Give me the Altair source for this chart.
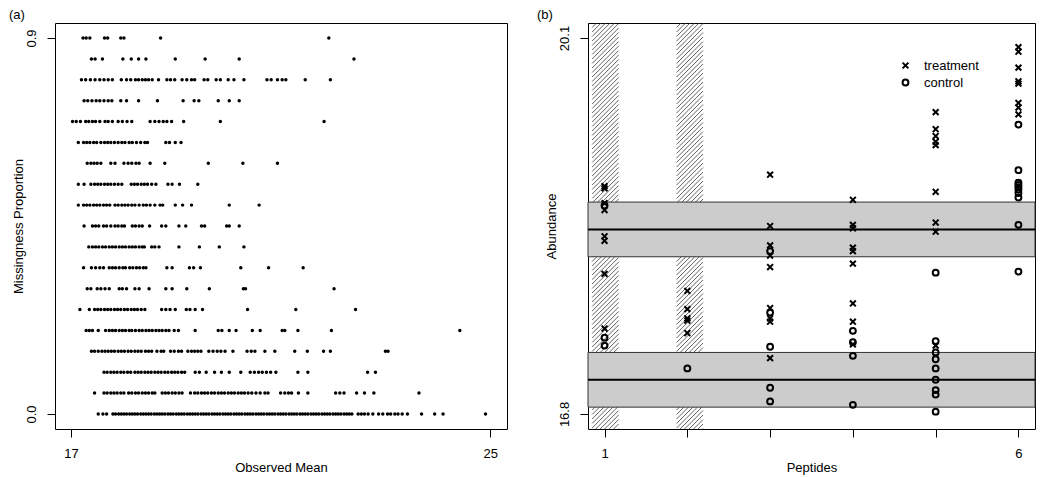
import altair as alt
import pandas as pd

FONT = "Liberation Sans"

# ---------------- panel (a): observed mean for each missingness level ----------------
prop_levels = [0.0, 0.05, 0.1, 0.15, 0.2, 0.25, 0.3, 0.35, 0.4, 0.45,
               0.5, 0.55, 0.6, 0.65, 0.7, 0.75, 0.8, 0.85, 0.9]

mean_000 = [17.52, 17.61, 17.68, 17.80, 17.85, 17.91, 17.96, 18.01, 18.06, 18.12, 18.17, 18.22, 18.27,
            18.33, 18.38, 18.43, 18.48, 18.53, 18.59, 18.64, 18.69, 18.74, 18.79, 18.85, 18.90, 18.95,
            19.01, 19.06, 19.11, 19.16, 19.22, 19.27, 19.32, 19.37, 19.42, 19.48, 19.53, 19.58, 19.63,
            19.69, 19.74, 19.79, 19.84, 19.90, 19.95, 20.00, 20.05, 20.11, 20.16, 20.21, 20.26, 20.32,
            20.37, 20.42, 20.47, 20.53, 20.58, 20.63, 20.68, 20.74, 20.79, 20.84, 20.89, 20.95, 21.00,
            21.05, 21.10, 21.16, 21.21, 21.26, 21.31, 21.37, 21.42, 21.47, 21.52, 21.58, 21.63, 21.68,
            21.73, 21.79, 21.84, 21.89, 21.94, 22.00, 22.05, 22.10, 22.15, 22.21, 22.26, 22.31, 22.36,
            22.48, 22.54, 22.60, 22.67, 22.76, 22.87, 22.95, 23.04, 23.10, 23.18, 23.24, 23.32, 23.42,
            23.69, 23.94, 24.10, 24.91]
mean_005 = [17.45, 17.63, 17.69, 17.76, 17.82, 17.88, 17.95, 18.01, 18.10, 18.16, 18.23, 18.29, 18.36,
            18.42, 18.48, 18.55, 18.60, 18.74, 18.80, 18.86, 18.93, 18.99, 19.06, 19.12, 19.28, 19.36,
            19.42, 19.49, 19.55, 19.61, 19.68, 19.74, 19.81, 19.87, 19.93, 20.00, 20.06, 20.12, 20.19,
            20.25, 20.31, 20.38, 20.45, 20.53, 20.61, 20.70, 20.76, 21.00, 21.08, 21.15, 21.21, 21.34,
            21.52, 22.05, 22.13, 22.21, 22.45, 22.60, 22.78, 23.64]
mean_010 = [17.63, 17.69, 17.76, 17.82, 17.88, 17.95, 18.01, 18.08, 18.14, 18.22, 18.28, 18.34, 18.41,
            18.47, 18.53, 18.60, 18.66, 18.72, 18.79, 18.85, 18.92, 18.98, 19.04, 19.11, 19.17, 19.37,
            19.45, 19.58, 19.74, 19.87, 20.02, 20.24, 20.42, 20.50, 20.58, 20.65, 20.73, 20.81, 20.91,
            21.33, 21.52, 22.66, 22.81]
mean_015 = [17.39, 17.45, 17.52, 17.59, 17.65, 17.71, 17.77, 17.83, 17.90, 17.96, 18.02, 18.09, 18.15,
            18.22, 18.28, 18.34, 18.42, 18.48, 18.54, 18.64, 18.72, 18.77, 18.90, 18.97, 19.05, 19.11,
            19.23, 19.30, 19.36, 19.42, 19.48, 19.63, 19.71, 19.79, 19.86, 19.94, 20.09, 20.36, 20.44,
            20.51, 20.70, 20.89, 21.27, 21.51, 21.82, 21.95, 23.00, 23.05]
mean_020 = [17.29, 17.35, 17.41, 17.52, 17.66, 17.73, 17.79, 17.85, 17.92, 17.98, 18.04, 18.11, 18.16,
            18.23, 18.30, 18.36, 18.43, 18.49, 18.55, 18.62, 18.68, 18.74, 18.81, 18.87, 18.97, 19.05,
            19.37, 19.81, 19.88, 20.02, 20.15, 20.46, 20.61, 21.03, 21.08, 21.33, 21.97, 24.42]
mean_025 = [17.17, 17.35, 17.45, 17.51, 17.57, 17.64, 17.70, 17.76, 17.83, 17.89, 17.95, 18.02, 18.08,
            18.15, 18.21, 18.27, 18.34, 18.41, 18.73, 18.81, 18.89, 18.99, 19.20, 19.27, 19.37, 19.51,
            20.37, 21.29, 22.43]
mean_030 = [17.31, 17.38, 17.50, 17.57, 17.65, 17.73, 17.92, 17.98, 18.06, 18.22, 18.30, 18.49, 18.81,
            18.93, 19.21, 19.64, 20.29, 20.33, 22.02]
mean_035 = [17.24, 17.39, 17.47, 17.55, 17.62, 17.73, 17.79, 17.85, 17.92, 17.99, 18.04, 18.12, 18.18,
            18.25, 18.31, 18.38, 18.43, 18.83, 18.93, 19.26, 19.34, 19.47, 20.24, 20.77, 21.43]
mean_040 = [17.34, 17.41, 17.47, 17.53, 17.60, 17.66, 17.73, 17.79, 17.85, 17.92, 17.98, 18.04, 18.11,
            18.17, 18.23, 18.30, 18.36, 18.40, 18.54, 18.60, 18.68, 19.06, 19.45, 19.83, 20.30]
mean_045 = [17.25, 17.41, 17.47, 17.53, 17.62, 17.68, 17.76, 17.84, 17.90, 17.97, 18.02, 18.17, 18.23,
            18.30, 18.36, 18.50, 18.73, 18.81, 19.06, 19.19, 19.49, 19.55, 19.97, 20.02, 20.21]
mean_050 = [17.14, 17.24, 17.30, 17.36, 17.43, 17.49, 17.55, 17.62, 17.68, 17.74, 17.84, 17.90, 17.97,
            18.03, 18.09, 18.16, 18.22, 18.30, 18.38, 18.44, 18.51, 18.60, 18.70, 18.75, 18.99, 19.13,
            19.30, 20.02, 20.59]
mean_055 = [17.14, 17.25, 17.38, 17.45, 17.51, 17.57, 17.64, 17.70, 17.76, 17.83, 17.90, 17.97, 18.15,
            18.21, 18.27, 18.34, 18.40, 18.46, 18.54, 18.62, 18.85, 18.93, 19.07, 19.42]
mean_060 = [17.31, 17.38, 17.44, 17.50, 17.57, 17.76, 17.84, 18.01, 18.09, 18.16, 18.24, 18.30, 18.51,
            18.79, 19.62, 20.28, 20.94]
mean_065 = [17.14, 17.24, 17.30, 17.36, 17.43, 17.49, 17.57, 17.64, 17.70, 17.76, 17.83, 17.90, 17.97,
            18.03, 18.11, 18.17, 18.25, 18.33, 18.41, 18.46, 18.81, 18.88, 18.99, 19.10]
mean_070 = [17.03, 17.10, 17.18, 17.28, 17.34, 17.41, 17.47, 17.55, 17.65, 17.71, 17.79, 17.90, 17.98,
            18.07, 18.16, 18.51, 18.60, 18.68, 18.76, 18.83, 18.92, 19.15, 19.85, 21.83]
mean_075 = [17.25, 17.32, 17.40, 17.48, 17.55, 17.63, 17.71, 17.78, 17.95, 18.06, 18.29, 18.65, 19.14,
            19.35, 19.44, 19.81, 20.02, 20.21]
mean_080 = [17.20, 17.28, 17.37, 17.46, 17.55, 17.63, 17.71, 17.79, 17.96, 18.06, 18.14, 18.23, 18.29,
            18.36, 18.42, 18.48, 18.55, 18.67, 18.83, 18.90, 18.98, 19.12, 19.21, 19.30, 19.36, 19.54,
            19.61, 19.77, 19.85, 20.00, 20.11, 20.30, 20.74, 20.82, 20.94, 21.03, 21.10, 21.47, 21.95]
mean_085 = [17.39, 17.46, 17.60, 17.99, 18.15, 18.29, 18.43, 18.99, 19.56, 20.21, 22.40]
mean_090 = [17.23, 17.29, 17.36, 17.64, 17.70, 17.95, 18.01, 18.71, 21.92]

rows_a = [mean_000, mean_005, mean_010, mean_015, mean_020, mean_025, mean_030, mean_035, mean_040,
          mean_045, mean_050, mean_055, mean_060, mean_065, mean_070, mean_075, mean_080, mean_085,
          mean_090]

# ---------------- panel (b): abundance per peptide ----------------
peptides = [1, 2, 3, 4, 5, 6]
treatment = [
    [18.80, 18.78, 18.65, 18.59, 18.36, 18.32, 18.03, 17.55],
    [17.88, 17.72, 17.64, 17.62, 17.51],
    [18.90, 18.45, 18.28, 18.19, 18.09, 17.73, 17.64, 17.61, 17.29],
    [18.68, 18.46, 18.43, 18.26, 18.23, 18.12, 17.77, 17.61, 17.41],
    [19.45, 19.30, 19.24, 19.19, 19.16, 18.75, 18.48, 18.40, 17.40],
    [20.02, 19.98, 19.84, 19.72, 19.70, 19.53, 19.49, 19.43],
]
control = [
    [18.63, 17.47, 17.40],
    [17.20],
    [18.23, 17.69, 17.39, 17.03, 16.91],
    [17.53, 17.43, 17.31, 16.88],
    [18.04, 17.44, 17.34, 17.28, 17.20, 17.10, 17.01, 16.97, 16.82],
    [19.34, 18.94, 18.83, 18.81, 18.79, 18.77, 18.74, 18.70, 18.46, 18.05],
]
band_centers = [18.42, 17.10]
band_half = 0.24
hatch_from = [0.85, 1.87]
hatch_to = [1.17, 2.19]

# ---------------- sizes / domains ----------------
WA, HA = 452, 406
WB, HB = 447, 406
XA_DOM = [16.695, 25.32]
YA_DOM = [-0.036, 0.936]
XB_DOM = [0.8, 6.2]
YB_DOM = [16.668, 20.232]

df_a = pd.DataFrame([{"prop": p, "mean": m} for p, row in zip(prop_levels, rows_a) for m in row])

recs = []
for pep, tv, cv in zip(peptides, treatment, control):
    recs += [{"peptide": pep, "abundance": v, "group": "treatment"} for v in tv]
    recs += [{"peptide": pep, "abundance": v, "group": "control"} for v in cv]
df_b = pd.DataFrame(recs)

df_band = pd.DataFrame({"x": [XB_DOM[0]] * 2, "x2": [XB_DOM[1]] * 2,
                        "y": [c - band_half for c in band_centers],
                        "y2": [c + band_half for c in band_centers]})
df_mid = pd.DataFrame({"x": [XB_DOM[0]] * 2, "x2": [XB_DOM[1]] * 2, "y": band_centers})

# hatch lines (45 degrees in screen space) inside each hatched strip
sx = WB / (XB_DOM[1] - XB_DOM[0])
sy = HB / (YB_DOM[1] - YB_DOM[0])
SPACING = 4.5
hrecs = []
for a, b in zip(hatch_from, hatch_to):
    X0, X1 = (a - XB_DOM[0]) * sx, (b - XB_DOM[0]) * sx
    c = X0 - HB
    while c <= X1:
        xa, xb = max(X0, c), min(X1, HB + c)
        if xb > xa:
            hrecs.append({"x": XB_DOM[0] + xa / sx, "y": YB_DOM[0] + (xa - c) / sy,
                          "x2": XB_DOM[0] + xb / sx, "y2": YB_DOM[0] + (xb - c) / sy})
        c += SPACING
df_h = pd.DataFrame(hrecs)

axis_common = dict(grid=False, domain=False, tickColor="black", tickSize=8, tickWidth=1,
                   labelColor="black", titleColor="black", labelFontSize=13, titleFontSize=13,
                   labelFont=FONT, titleFont=FONT, titleFontWeight="normal", labelFlush=False)

# ---------------- panel (a) chart ----------------
xa_axis = alt.Axis(values=[17, 25], format="d", title="Observed Mean", labelPadding=10,
                   titlePadding=1, **axis_common)
ya_axis = alt.Axis(values=[0.0, 0.9], format=".1f", labelAngle=-90, labelAlign="center",
                   labelBaseline="bottom", labelPadding=9, title="Missingness Proportion",
                   titlePadding=0, **axis_common)

pts_a = alt.Chart(df_a).mark_circle(size=12, color="black", opacity=1).encode(
    x=alt.X("mean:Q", scale=alt.Scale(domain=XA_DOM, nice=False, zero=False), axis=xa_axis),
    y=alt.Y("prop:Q", scale=alt.Scale(domain=YA_DOM, nice=False, zero=False), axis=ya_axis),
)
lab_a = alt.Chart(pd.DataFrame({"t": ["(a)"]})).mark_text(
    align="left", baseline="alphabetic", fontSize=13, font=FONT, color="black"
).encode(text="t:N", x=alt.value(-46), y=alt.value(-4))

panel_a = alt.layer(pts_a, lab_a).properties(width=WA, height=HA)

# ---------------- panel (b) chart ----------------
xb_axis = alt.Axis(values=peptides, title="Peptides", labelPadding=10, titlePadding=1,
                   labelExpr="datum.value == 1 || datum.value == 6 ? datum.label : ''",
                   **axis_common)
yb_axis = alt.Axis(values=[16.8, 20.1], format=".1f", labelAngle=-90, labelAlign="center",
                   labelBaseline="bottom", labelPadding=9, title="Abundance", titlePadding=0,
                   **axis_common)
xs = alt.Scale(domain=XB_DOM, nice=False, zero=False)
ys = alt.Scale(domain=YB_DOM, nice=False, zero=False)


def X(f):
    return alt.X(f, type="quantitative", scale=xs, axis=xb_axis)


def Y(f):
    return alt.Y(f, type="quantitative", scale=ys, axis=yb_axis)


hatch = alt.Chart(df_h).mark_rule(color="#3a3a3a", strokeWidth=0.8).encode(
    x=X("x"), y=Y("y"), x2="x2", y2="y2")
bands = alt.Chart(df_band).mark_rect(fill="#CCCCCC", stroke="#333333", strokeWidth=1).encode(
    x=X("x"), x2="x2", y=Y("y"), y2="y2")
mids = alt.Chart(df_mid).mark_rule(color="black", strokeWidth=2).encode(
    x=X("x"), x2="x2", y=Y("y"))

XPATH = "M-1,-1L1,1M1,-1L-1,1"
pts_b = alt.Chart(df_b).mark_point(filled=False, size=34, strokeWidth=2, color="black",
                                   opacity=1).encode(
    x=X("peptide"), y=Y("abundance"),
    shape=alt.Shape("group:N",
                    scale=alt.Scale(domain=["treatment", "control"], range=[XPATH, "circle"]),
                    legend=alt.Legend(title=None, orient="none", legendX=844, legendY=36,
                                      labelFontSize=13, labelFont=FONT, labelColor="black",
                                      symbolSize=34, symbolStrokeWidth=2,
                                      symbolStrokeColor="black", symbolFillColor="transparent",
                                      rowPadding=2, labelOffset=12, padding=0)),
)
lab_b = alt.Chart(pd.DataFrame({"t": ["(b)"]})).mark_text(
    align="left", baseline="alphabetic", fontSize=13, font=FONT, color="black"
).encode(text="t:N", x=alt.value(-51), y=alt.value(-4))

panel_b = alt.layer(hatch, bands, mids, pts_b, lab_b).properties(width=WB, height=HB)

chart = alt.hconcat(panel_a, panel_b, spacing=28).configure(
    font=FONT, padding={"left": 0, "top": 0, "right": 0, "bottom": 0}
).configure_view(stroke="black", strokeWidth=1)

chart.save("out.html", embed_options={"renderer": "svg", "actions": False})
